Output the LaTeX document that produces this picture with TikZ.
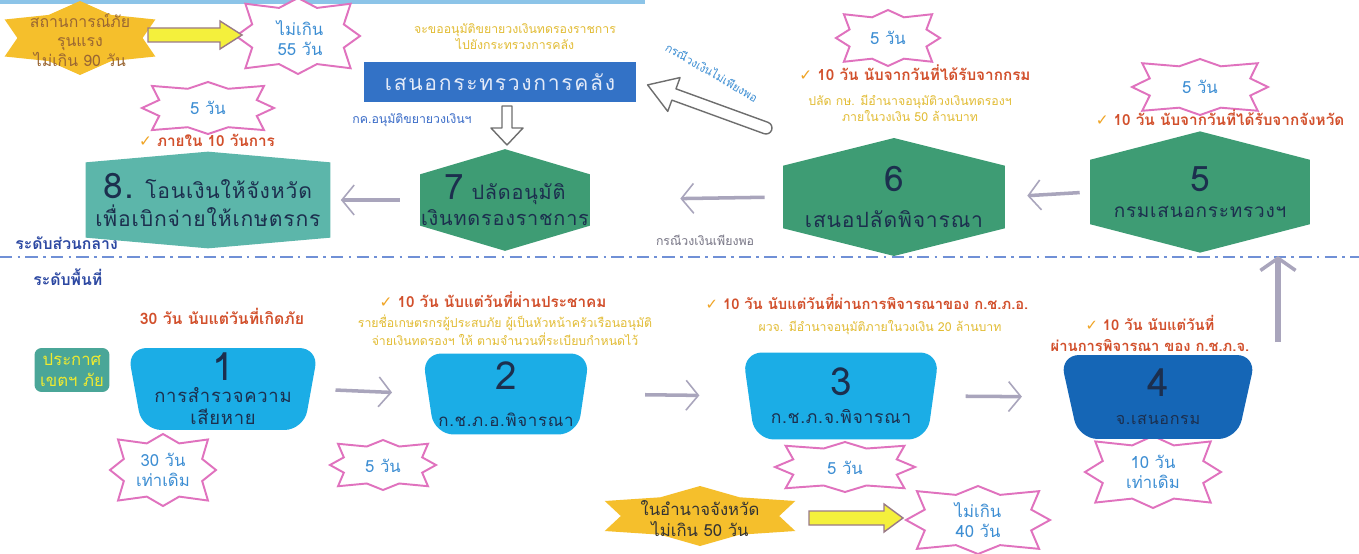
\documentclass[tikz,border=0pt]{standalone}
\usepackage{fontspec}
\setmainfont{Loma}[Script=Thai]
\newfontfamily\boxfont{Loma}[Script=Thai,LetterSpace=4]
\newfontfamily\widefont{Loma}[Script=Thai,LetterSpace=8]
\newfontfamily\symfont{DejaVu Sans}
\usetikzlibrary{shapes.geometric,shapes.symbols,arrows.meta}

\definecolor{pinkline}{HTML}{E072BE}
\definecolor{startext}{HTML}{3D8ED3}
\definecolor{goldstar}{HTML}{F5BF2C}
\definecolor{arrowyellow}{HTML}{F4F03C}
\definecolor{arrowrim}{HTML}{9A7A86}
\definecolor{chkorange}{HTML}{F0A424}
\definecolor{notered}{HTML}{D2502C}
\definecolor{noteyellow}{HTML}{E2BC34}
\definecolor{mofblue}{HTML}{3372C6}
\definecolor{moftext}{HTML}{E3EAF8}
\definecolor{hexgreen}{HTML}{3E9C74}
\definecolor{hexteal}{HTML}{5CB6AA}
\definecolor{boxcyan}{HTML}{1BADE6}
\definecolor{boxblue}{HTML}{1566B6}
\definecolor{boxtext}{HTML}{1C2F4E}
\definecolor{zoneteal}{HTML}{4AA698}
\definecolor{zonetext}{HTML}{EFEA30}
\definecolor{levelblue}{HTML}{2C48A2}
\definecolor{flowgray}{HTML}{A9A5BC}
\definecolor{dashblue}{HTML}{7090D6}
\definecolor{smallblue}{HTML}{3A6CC8}
\definecolor{topstrip}{HTML}{8CC4E8}
\definecolor{hollowrim}{HTML}{6E6E6E}

\newcommand{\chk}{{\symfont\color{chkorange}✓}}

\begin{document}
\begin{tikzpicture}[x=0.02cm,y=-0.02cm,
  declare function={sf(\t)=1-0.2*mod(round(\t/22.5),2)+0.2*equal(mod(round(\t/22.5),4),2);
                    yf(\t)=1-0.28*(1-mod(round(\t/30),2));}]
\tikzstyle{every node}+=[inner sep=0pt, align=center]
\tikzstyle{pinkstar}=[draw=pinkline, line width=1.1pt, fill=white, line join=miter]
\tikzstyle{startxt}=[text=startext, font=\fontsize{9.5}{11}\selectfont]
\tikzstyle{hexbox}=[signal, signal to=north and south, text=boxtext]
\tikzstyle{tubbox}=[trapezium, trapezium stretches=true, shape border rotate=180, trapezium left angle=80, trapezium right angle=80, rounded corners=11pt, text=boxtext]
\tikzstyle{chknote}=[text=notered, font=\bfseries\fontsize{8.7}{12}\selectfont]
\tikzstyle{ynote}=[text=noteyellow, font=\fontsize{7}{9}\selectfont]
\tikzstyle{levellbl}=[text=levelblue, font=\bfseries\fontsize{9}{11}\selectfont, anchor=west]
\tikzstyle{flow}=[draw=flowgray, line width=2pt, -{Straight Barb[length=7pt, width=17pt, line width=0.9pt]}]
\tikzstyle{hollow}=[draw=hollowrim, fill=white, line width=0.8pt, line join=round]
\tikzstyle{yarrow}=[draw=arrowrim, fill=arrowyellow, line width=0.8pt]
\useasboundingbox (0,0) rectangle (1359,554);
\fill[white] (0,0) rectangle (1359,554);
\fill[topstrip] (0,0) rectangle (645,4);
% gold bursts
\foreach \cx/\cy/\rx/\ry in {80/38/87/37, 700/516/110/30}
  \fill[goldstar] plot[domain=0:360, samples=13] ({\cx+yf(\x)*\rx*cos(\x)}, {\cy+yf(\x)*\ry*sin(\x)}) -- cycle;
\node[text=brown!80!black, font=\fontsize{9}{11}\selectfont] (severe) at (80,40) {สถานการณ์ภัย\\รุนแรง\\ไม่เกิน 90 วัน};
\node[text=black!80, font=\fontsize{9.5}{12}\selectfont] (prov) at (700,519) {ในอำนาจจังหวัด\\ไม่เกิน 50 วัน};
% pink stars
\foreach \cx/\cy/\rx/\ry in {298/36/62/38, 888/38/52/28, 1200/87/68/28, 208/108/66/26,
    163/470/53/36, 383/465/53/25, 845/467/70/25, 1153/472/68/36, 978/520/72/34}
  \draw[pinkstar] plot[domain=0:360, samples=17] ({\cx+sf(\x)*\rx*cos(\x)}, {\cy+sf(\x)*\ry*sin(\x)}) -- cycle;
\node[startxt] (d55) at (300,38) {ไม่เกิน\\55 วัน};
\node[startxt] (d6) at (888,38) {5 วัน};
\node[startxt] (d5) at (1200,87) {5 วัน};
\node[startxt] (d8) at (208,108) {5 วัน};
\node[startxt] (d1) at (163,470) {30 วัน\\เท่าเดิม};
\node[startxt] (d2) at (383,466) {5 วัน};
\node[startxt] (d3) at (845,468) {5 วัน};
\node[startxt] (d4) at (1153,472) {10 วัน\\เท่าเดิม};
\node[startxt] (d40) at (978,520) {ไม่เกิน\\40 วัน};
% yellow arrows
\draw[yarrow] (148,28) -- (220,28) -- (220,21) -- (242,35) -- (220,49) -- (220,42) -- (148,42) -- cycle;
\draw[yarrow] (809,511) -- (884,511) -- (884,504) -- (903,518) -- (884,532) -- (884,525) -- (809,525) -- cycle;
% central level
\node[ynote] (ask) at (515,37) {จะขออนุมัติขยายวงเงินทดรองราชการ\\ไปยังกระทรวงการคลัง};
\node[fill=mofblue, text=moftext, font=\widefont\fontsize{12}{14}\selectfont, minimum width=5.46cm, minimum height=0.82cm] (mof) at (500,82) {เสนอกระทรวงการคลัง};
\node[text=smallblue, font=\fontsize{7}{9}\selectfont] (okmof) at (412,120) {กค.อนุมัติขยายวงเงินฯ};
\node[chknote] (c8) at (207,140) {\chk\ ภายใน 10 วันการ};
\node[chknote] (c6) at (915,73) {\chk\ 10 วัน นับจากวันที่ได้รับจากกรม};
\node[ynote] (lim50) at (910,108) {ปลัด กษ. มีอำนาจอนุมัติวงเงินทดรองฯ\\ภายในวงเงิน 50 ล้านบาท};
\node[chknote] (c5) at (1220,118) {\chk\ 10 วัน นับจากวันที่ได้รับจากจังหวัด};
\node[hexbox, fill=hexteal, minimum width=4.9cm, minimum height=1.9cm, signal pointer angle=170, font=\boxfont\fontsize{12}{16}\selectfont] (n8) at (208,200) {{\fontsize{20}{20}\selectfont 8.} โอนเงินให้จังหวัด\\เพื่อเบิกจ่ายให้เกษตรกร};
\node[hexbox, fill=hexgreen, minimum width=3.4cm, minimum height=2cm, signal pointer angle=147, font=\boxfont\fontsize{11.3}{15}\selectfont] (n7) at (505,200) {{\fontsize{20}{20}\selectfont 7} ปลัดอนุมัติ\\เงินทดรองราชการ};
\node[hexbox, fill=hexgreen, minimum width=4.44cm, minimum height=2.14cm, signal pointer angle=152, font=\boxfont\fontsize{12}{16}\selectfont] (n6) at (894,197) {{\fontsize{20}{22}\selectfont 6}\\[4pt]เสนอปลัดพิจารณา};
\node[hexbox, fill=hexgreen, minimum width=4.4cm, minimum height=2.18cm, signal pointer angle=151, font=\boxfont\fontsize{10.8}{15}\selectfont] (n5) at (1200,192) {{\fontsize{20}{22}\selectfont 5}\\กรมเสนอกระทรวงฯ};
\node[text=flowgray!70!black, font=\fontsize{7}{9}\selectfont] (enough) at (705,240) {กรณีวงเงินเพียงพอ};
\node[text=startext, font=\fontsize{6.5}{8}\selectfont, rotate=-30] (short) at (712,72) {กรณีวงเงินไม่เพียงพอ};
\draw[hollow] (502,106) -- (502,128) -- (491,128) -- (507,145) -- (523,128) -- (512,128) -- (512,106) -- cycle;
\begin{scope}[shift={(766,128)}, rotate=160]
\draw[hollow] (0,-6) -- (98,-6) -- (98,-18) -- (126,0) -- (98,18) -- (98,6) -- (0,6) arc[start angle=90, end angle=270, radius=6] -- cycle;
\end{scope}
\draw[flow, shorten <=0.2cm, shorten >=0.44cm] (n5.west) -- (n6.east);
\draw[flow, shorten <=0.36cm, shorten >=1.8cm] (n6.west) -- (n7.east);
\draw[flow, shorten <=0.4cm, shorten >=0.2cm] (n7.west) -- (n8.east);
% level separator
\node[levellbl] (central) at (15,243) {ระดับส่วนกลาง};
\draw[dashblue, line width=1.2pt, dash pattern=on 7pt off 3pt on 1.5pt off 3pt] (0,257) -- (1359,257);
\node[levellbl] (local) at (33,277) {ระดับพื้นที่};
% local level
\node[text=notered, font=\bfseries\fontsize{9}{12}\selectfont] (n30) at (222,316) {30 วัน นับแต่วันที่เกิดภัย};
\node[chknote] (c2) at (493,300) {\chk\ 10 วัน นับแต่วันที่ผ่านประชาคม};
\node[ynote] (list) at (505,330) {รายชื่อเกษตรกรผู้ประสบภัย ผู้เป็นหัวหน้าครัวเรือนอนุมัติ\\จ่ายเงินทดรองฯ ให้ ตามจำนวนที่ระเบียบกำหนดไว้};
\node[chknote, font=\bfseries\fontsize{8.4}{12}\selectfont] (c3) at (867,302) {\chk\ 10 วัน นับแต่วันที่ผ่านการพิจารณาของ ก.ช.ภ.อ.};
\node[ynote] (lim20) at (880,328) {ผวจ. มีอำนาจอนุมัติภายในวงเงิน 20 ล้านบาท};
\node[chknote, font=\bfseries\fontsize{8.4}{12}\selectfont] (c4) at (1150,333) {\chk\ 10 วัน นับแต่วันที่\\ผ่านการพิจารณา ของ ก.ช.ภ.จ.};
\node[fill=zoneteal, text=zonetext, rounded corners=4pt, minimum width=1.5cm, minimum height=0.88cm, font=\fontsize{9.5}{12}\selectfont] (zone) at (72,370) {ประกาศ\\เขตฯ ภัย};
\node[tubbox, fill=boxcyan, minimum width=3.86cm, minimum height=1.64cm, font=\boxfont\fontsize{10.5}{12.5}\selectfont] (n1) at (223,389) {{\fontsize{22}{22}\selectfont 1}\\การสำรวจความ\\เสียหาย};
\node[tubbox, fill=boxcyan, minimum width=3.36cm, minimum height=1.62cm, font=\boxfont\fontsize{9.6}{12}\selectfont] (n2) at (506,394) {{\fontsize{22}{22}\selectfont 2}\\[9pt]ก.ช.ภ.อ.พิจารณา};
\node[tubbox, fill=boxcyan, minimum width=3.96cm, minimum height=1.74cm, font=\boxfont\fontsize{10}{12}\selectfont] (n3) at (841,396) {{\fontsize{22}{22}\selectfont 3}\\[4pt]ก.ช.ภ.จ.พิจารณา};
\node[tubbox, fill=boxblue, minimum width=3.94cm, minimum height=1.68cm, font=\boxfont\fontsize{9.2}{12}\selectfont] (n4) at (1158,397) {{\fontsize{22}{22}\selectfont 4}\\[4pt]จ.เสนอกรม};
\draw[flow, shorten <=0.48cm, shorten >=0.72cm] (n1.east) -- (n2.west);
\draw[flow, shorten <=1.22cm, shorten >=0.98cm] (n2.east) -- (n3.west);
\draw[flow, shorten <=0.64cm, shorten >=0.94cm] (n3.east) -- (n4.west);
\coordinate (lift) at (1278,342);
\draw[flow, line width=3pt, -{Straight Barb[length=7pt, width=20pt, line width=2pt]}, shorten >=0.06cm] (lift) -- (lift |- n5.south);
\end{tikzpicture}
\end{document}
